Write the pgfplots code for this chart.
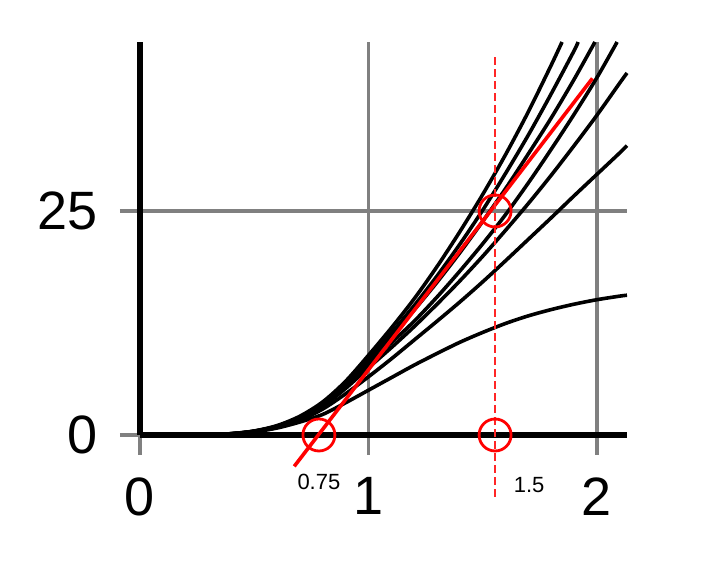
\documentclass[border=0pt]{standalone}
\usepackage{fontspec}
\setmainfont{Liberation Sans}
\usepackage{pgfplots}
\pgfplotsset{compat=1.18}
\begin{document}
\begin{tikzpicture}
\begin{axis}[
  at={(70pt,70.5pt)}, anchor=south west,
  scale only axis, width=243.5pt, height=196.5pt,
  xmin=0, xmax=2.1313, ymin=0, ymax=43.86,
  clip=false,
  axis x line*=bottom, axis y line*=left,
  axis line style={line width=2.7pt, black, -},
  xtick={0,1,2}, ytick={0,25},
  xmajorgrids, ymajorgrids,
  grid style={gray, line width=1.7pt},
  tick align=outside, major tick length=10pt,
  tick style={gray, line width=1.7pt},
  /pgf/number format/assume math mode=true,
  ticklabel style={font=\fontsize{27}{30}\selectfont, inner sep=0pt},
  xticklabel style={anchor=north, yshift=-11pt},
  yticklabel style={anchor=east, xshift=-11pt},
]
\addplot[black, line width=1.8pt, smooth] coordinates {(0.15,0) (0.3,0.03) (0.4,0.15) (0.5,0.45) (0.6,1.05) (0.7,2.1) (0.8,3.7) (0.9,6.0) (1.0,8.9) (1.1,11.95) (1.2,15.2) (1.3,18.8) (1.4,22.7) (1.5,26.85) (1.6,31.3) (1.7,36.1) (1.8,41.3) (1.847,43.86)};
\addplot[black, line width=1.8pt, smooth] coordinates {(0.15,0) (0.3,0.03) (0.4,0.14) (0.5,0.43) (0.6,1.0) (0.7,2.0) (0.8,3.55) (0.9,5.8) (1.0,8.6) (1.1,11.4) (1.2,14.45) (1.3,17.75) (1.4,21.3) (1.5,25.1) (1.6,29.2) (1.7,33.5) (1.8,38.1) (1.9,42.9) (1.917,43.86)};
\addplot[black, line width=1.8pt, smooth] coordinates {(0.15,0) (0.3,0.03) (0.4,0.14) (0.5,0.42) (0.6,0.98) (0.7,1.95) (0.8,3.45) (0.9,5.6) (1.0,8.3) (1.1,11.0) (1.2,13.95) (1.3,17.05) (1.4,20.35) (1.5,23.85) (1.6,27.5) (1.7,31.4) (1.8,35.4) (1.9,39.7) (1.991,43.86)};
\addplot[black, line width=1.8pt, smooth] coordinates {(0.15,0) (0.3,0.03) (0.4,0.14) (0.5,0.41) (0.6,0.95) (0.7,1.9) (0.8,3.4) (0.9,5.5) (1.0,7.95) (1.1,10.3) (1.2,12.7) (1.3,15.4) (1.4,18.3) (1.5,21.35) (1.6,24.6) (1.7,28.15) (1.8,31.9) (1.9,35.8) (2.0,39.9) (2.088,43.86)};
\addplot[black, line width=1.8pt, smooth] coordinates {(0.15,0) (0.3,0.03) (0.4,0.13) (0.5,0.4) (0.6,0.92) (0.7,1.8) (0.8,3.2) (0.9,5.2) (1.0,7.5) (1.1,9.75) (1.2,12.1) (1.3,14.6) (1.4,17.2) (1.5,19.95) (1.6,22.85) (1.7,25.85) (1.8,29.0) (1.9,32.3) (2.0,35.7) (2.1,39.3) (2.1313,40.4)};
\addplot[black, line width=1.8pt, smooth] coordinates {(0.15,0) (0.3,0.03) (0.4,0.13) (0.5,0.38) (0.6,0.86) (0.7,1.65) (0.8,2.9) (0.9,4.6) (1.0,6.5) (1.1,8.5) (1.2,10.6) (1.3,12.7) (1.4,14.85) (1.5,17.1) (1.6,19.45) (1.7,21.85) (1.8,24.25) (1.9,26.7) (2.0,29.1) (2.1,31.5) (2.1313,32.3)};
\addplot[black, line width=1.8pt, smooth] coordinates {(0.15,0) (0.3,0.02) (0.4,0.12) (0.5,0.35) (0.6,0.78) (0.7,1.45) (0.8,2.3) (0.9,3.6) (1.0,5.0) (1.1,6.4) (1.2,7.8) (1.3,9.1) (1.4,10.35) (1.5,11.45) (1.6,12.45) (1.7,13.3) (1.8,14.0) (1.9,14.6) (2.0,15.1) (2.1,15.5) (2.1313,15.6)};
% tangent line
\addplot[red, line width=1.8pt] coordinates {(0.675,-3.5) (1.98,39.8)};
% dashed vertical
\addplot[red!85!white, line width=1pt, dash pattern=on 4pt off 2pt] coordinates {(1.554,-6.9) (1.554,42.3)};
% circles
\addplot[red, only marks, mark=o, mark size=8pt, mark options={line width=1.4pt}] coordinates {(0.783,0) (1.554,25) (1.554,0)};
\node[font=\fontsize{11}{13}\selectfont, inner sep=0pt] at (axis cs:0.783,-5.2) {0.75};
\node[font=\fontsize{11}{13}\selectfont, inner sep=0pt] at (axis cs:1.703,-5.6) {1.5};
\end{axis}
\pgfresetboundingbox
\useasboundingbox (0,0) rectangle (355.5pt,288pt);
\end{tikzpicture}
\end{document}
